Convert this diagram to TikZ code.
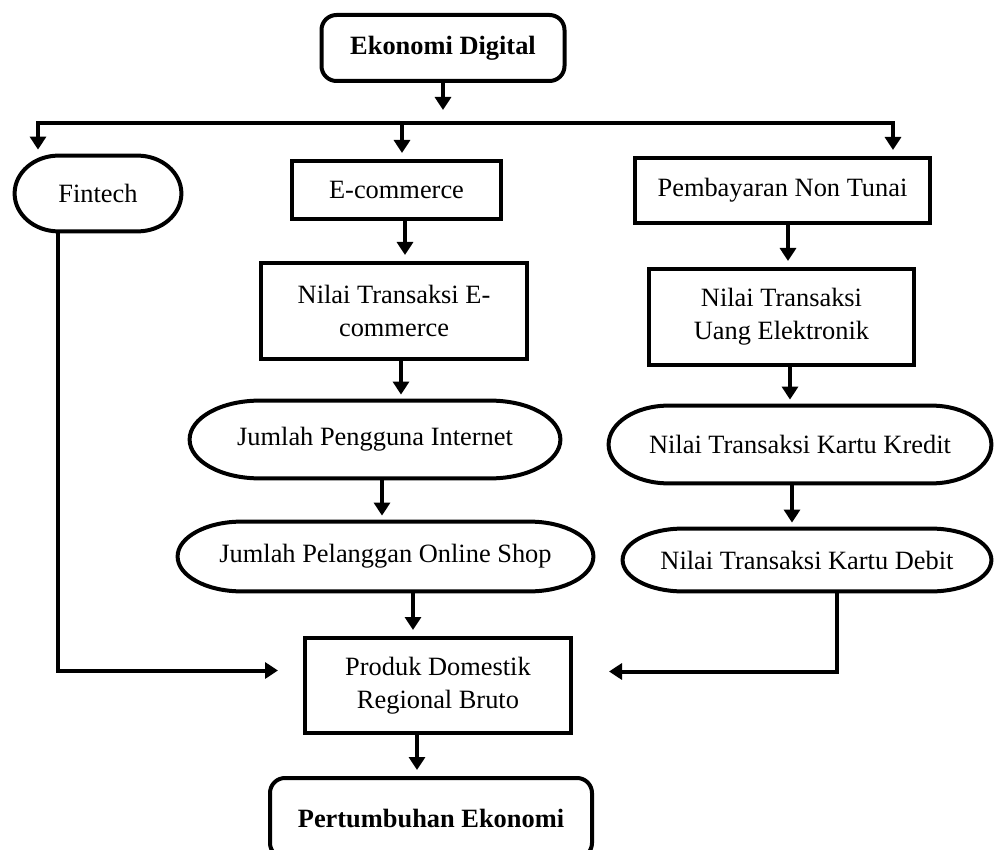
\documentclass[tikz,border=0pt]{standalone}
\usepackage{fontspec}
\setmainfont{Liberation Serif}
\usetikzlibrary{arrows.meta,calc}
\tikzset{
  conn/.style={line width=2pt},
  arr/.style={conn, -{Triangle[length=6.5pt,width=8pt]}, shorten >=3pt},
  txt/.style={inner sep=0pt, align=center, font=\fontsize{13.2}{16.5}\selectfont},
  box/.style={txt, draw, line width=2pt},
  rbox/.style={box, rounded corners=7.5pt, font=\fontsize{13.2}{16.5}\selectfont\bfseries},
  stad/.style={txt},
}
\newcommand\stadium[2]{%
  \draw[conn] let \p1=(#1.north east), \p2=(#1.south west), \n1={(\y1-\y2)/2} in
    (\x2+#2,\y1) -- (\x1-#2,\y1)
    arc[start angle=90,end angle=-90,x radius=#2,y radius=\n1]
    -- (\x2+#2,\y2)
    arc[start angle=270,end angle=90,x radius=#2,y radius=\n1] -- cycle;}
\begin{document}
\begin{tikzpicture}[x=0.5pt,y=-0.5pt]
\useasboundingbox (0,0) rectangle (996,850);
% nodes
\node[rbox, minimum width=121.5pt, minimum height=33pt] (ed) at (443,48) {Ekonomi Digital};
\node[stad, minimum width=83pt, minimum height=37.5pt] (fin) at (98,193.5) {Fintech};
\node[box, minimum width=104.5pt, minimum height=29pt] (ec) at (396.5,190) {E-commerce};
\node[box, minimum width=147.5pt, minimum height=32.5pt] (pnt) at (782.5,190.5) {Pembayaran Non Tunai};
\node[box, minimum width=133pt, minimum height=48pt] (nte) at (394,311) {Nilai Transaksi E-\\commerce};
\node[box, minimum width=132.5pt, minimum height=48pt] (ntue) at (781.5,317) {Nilai Transaksi\\Uang Elektronik};
\node[stad, minimum width=185pt, minimum height=38.5pt] (jpi) at (375,439.5) {Jumlah Pengguna Internet};
\node[stad, minimum width=191pt, minimum height=38.5pt] (kk) at (800,444.5) {Nilai Transaksi Kartu Kredit};
\node[stad, minimum width=207.5pt, minimum height=34.5pt] (jpos) at (385.5,556.5) {Jumlah Pelanggan Online Shop};
\node[stad, minimum width=184pt, minimum height=31pt] (kd) at (807,560) {Nilai Transaksi Kartu Debit};
\node[box, minimum width=133pt, minimum height=47.5pt] (pdrb) at (438,685.5) {Produk Domestik\\Regional Bruto};
\node[rbox, minimum width=161pt, minimum height=40pt] (pe) at (431,818) {Pertumbuhan Ekonomi};
% stadium outlines
\stadium{fin}{22pt}
\stadium{jpi}{35pt}
\stadium{kk}{30pt}
\stadium{jpos}{32pt}
\stadium{kd}{30pt}
% top distribution
\coordinate (edTip) at (443,110);
\coordinate (busL) at (38,123);
\coordinate (busM) at (402,123);
\coordinate (busR) at (893,123);
\draw[arr, shorten >=0pt] (ed.south) -- (edTip);
\draw[arr] (busM) -- (busL) -- (busL |- fin.north);
\draw[arr] (busM) -- (busR) -- (busR |- pnt.north);
\draw[arr] (busM) -- (busM |- ec.north);
% middle column
\draw[arr] ([xshift=4.25pt]ec.south) -- ([xshift=4.25pt]ec.south |- nte.north);
\draw[arr] ([xshift=3.5pt]nte.south) -- ([xshift=3.5pt]nte.south |- jpi.north);
\draw[arr] ([xshift=3.5pt]jpi.south) -- ([xshift=3.5pt]jpi.south |- jpos.north);
\draw[arr] ([xshift=-12.5pt]pdrb.north |- jpos.south) -- ([xshift=-12.5pt]pdrb.north);
\draw[arr] ([xshift=-10.5pt]pdrb.south) -- ([xshift=-10.5pt]pdrb.south |- pe.north);
% right column
\draw[arr] ([xshift=2.75pt]pnt.south) -- ([xshift=2.75pt]pnt.south |- ntue.north);
\draw[arr] ([xshift=4.25pt]ntue.south) -- ([xshift=4.25pt]ntue.south |- kk.north);
\draw[arr] ([xshift=-4pt]kk.south) -- ([xshift=-4pt]kk.south |- kd.north);
% side inputs to PDRB
\coordinate (pdL) at ($(pdrb.west)+(-25,-15)$);
\coordinate (pdR) at ($(pdrb.east)+(36,-14)$);
\draw[arr, shorten >=0pt] ([xshift=-20pt]fin.south) |- (pdL);
\draw[arr, shorten >=0pt] ([xshift=15pt]kd.south) |- (pdR);
\end{tikzpicture}
\end{document}
